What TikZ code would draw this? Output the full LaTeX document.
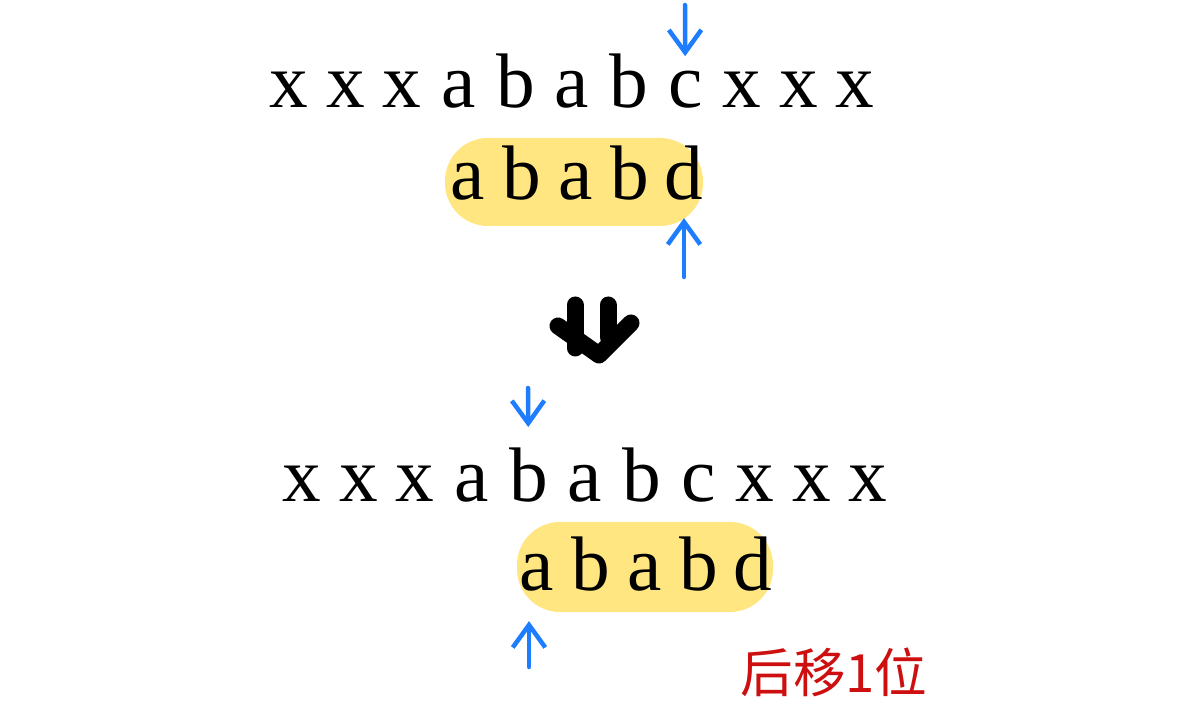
\documentclass[tikz,border=0pt]{standalone}
\usepackage{fontspec}
\setmainfont{Liberation Serif}
\newfontfamily\cjkfont{Noto Sans CJK SC}
\usepackage{xcolor}
\usetikzlibrary{
    arrows.meta,
    calc,
    positioning
}
\definecolor{penblue}{RGB}{30,125,255}
\definecolor{hlyellow}{RGB}{255,230,128}
\definecolor{penred}{RGB}{205,15,15}
\tikzset{
    letter/.style={inner sep=0pt, anchor=base, font=\fontsize{44}{50}\selectfont},
    pill/.style={fill=hlyellow, rounded corners=0.86cm},
    ptr/.style={draw=penblue, line width=0.09cm, line cap=round, -{Straight Barb[length=0.45cm,width=0.65cm]}},
    bigarrow/.style={line width=0.34cm, line cap=round, line join=round},
    note/.style={text=penred, font=\cjkfont\fontsize{30}{34}\selectfont}
}

\begin{document}
\begin{tikzpicture}[x=0.02cm, y=-0.02cm]
    \useasboundingbox (0,0) rectangle (1180,712);
    % highlight of the pattern
    \fill[pill] (445,138) rectangle (703,226);
    \fill[pill] (517,522) rectangle (773,612);
    % first alignment
    \foreach \ch [count=\i from 0] in {x,x,x,a,b,a,b,c,x,x,x}
        \node[letter] (s1-\i) at ({289+56.6*\i}, 108) {\ch};
    \foreach \ch [count=\i from 0] in {a,b,a,b,d}
        \node[letter] (p1-\i) at ({468+54*\i}, 200) {\ch};
    \coordinate (tp1) at (685, 5);
    \coordinate (bp1) at (684, 277);
    \draw[ptr, shorten >=0.3cm] (tp1) -- (s1-7.north);
    \draw[ptr, shorten >=0.34cm] (bp1) -- (p1-4.south);
    % big arrow
    \draw[bigarrow] (575,305) -- (575,348);
    \draw[bigarrow] (608,305) -- (608,337);
    \draw[bigarrow] (558,326) -- (599,355) -- (631,323);
    % second alignment
    \foreach \ch [count=\i from 0] in {x,x,x,a,b,a,b,c,x,x,x}
        \node[letter] (s2-\i) at ({302+56.6*\i}, 502) {\ch};
    \foreach \ch [count=\i from 0] in {a,b,a,b,d}
        \node[letter] (p2-\i) at ({537+54*\i}, 590) {\ch};
    \coordinate (tp2) at (528, 388);
    \coordinate (bp2) at (529, 667);
    \draw[ptr, shorten >=0.42cm] (tp2) -- (s2-4.north);
    \draw[ptr, shorten >=0.6cm] (bp2) -- (bp2 |- p2-0.south);
    \node[note] (shift) at (834, 672) {后移1位};
\end{tikzpicture}
\end{document}
